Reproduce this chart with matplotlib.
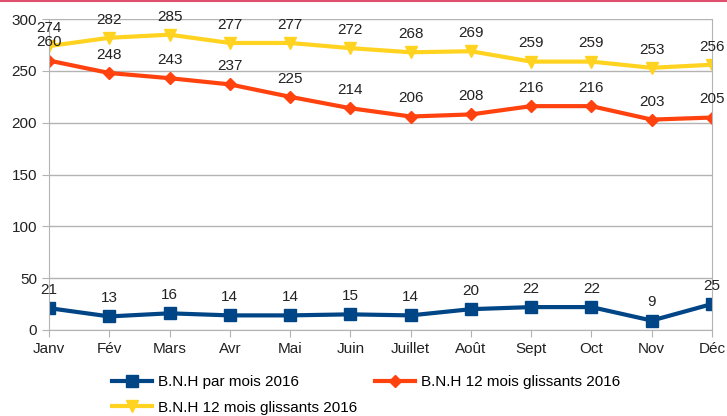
import matplotlib.pyplot as plt
from matplotlib.lines import Line2D

plt.rcParams['font.family'] = ['Liberation Sans', 'DejaVu Sans']

mois = ['Janv', 'Fév', 'Mars', 'Avr', 'Mai', 'Juin', 'Juillet', 'Août',
        'Sept', 'Oct', 'Nov', 'Déc']
par_mois = [21, 13, 16, 14, 14, 15, 14, 20, 22, 22, 9, 25]
glissants_a = [260, 248, 243, 237, 225, 214, 206, 208, 216, 216, 203, 205]
glissants_b = [274, 282, 285, 277, 277, 272, 268, 269, 259, 259, 253, 256]

bleu = '#004586'
orange = '#ff420e'
jaune = '#ffd320'

fig = plt.figure(figsize=(7.27, 4.16), dpi=100)
ax = fig.add_axes([0.0674, 0.207, 0.912, 0.747])

x = list(range(len(mois)))
l1, = ax.plot(x, par_mois, color=bleu, lw=3, marker='s', ms=8, label='B.N.H par mois 2016')
l2, = ax.plot(x, glissants_a, color=orange, lw=3, marker='D', ms=6, label='B.N.H 12 mois glissants 2016')
l3, = ax.plot(x, glissants_b, color=jaune, lw=3, marker='v', ms=9, label='B.N.H 12 mois glissants 2016')

for serie in (par_mois, glissants_a, glissants_b):
    for i, v in enumerate(serie):
        ax.annotate(str(v), (i, v), xytext=(0, 8), textcoords='offset points',
                    ha='center', va='bottom', fontsize=11, color='#222222')

ax.set_xlim(0, len(mois) - 1)
ax.set_ylim(0, 300)
ax.set_yticks(range(0, 301, 50))
ax.set_xticks(x)
ax.set_xticklabels(mois)
ax.tick_params(labelsize=11, color='#b3b3b3', length=5, colors='#222222')
ax.tick_params(axis='both', color='#b3b3b3')
ax.yaxis.grid(True, color='#b3b3b3', lw=1)
ax.set_axisbelow(True)
for s in ax.spines.values():
    s.set_color('#b3b3b3')
ax.spines['top'].set_visible(False)

fig.legend(handles=[l1, l3, l2], loc='lower left', bbox_to_anchor=(0.135, -0.03),
           ncol=2, frameon=False, fontsize=11, handlelength=2.6,
           columnspacing=1.2, labelspacing=0.75, handletextpad=0.4)

fig.add_artist(Line2D([0, 1], [0.998, 0.998], color='#e0506e', lw=1.5))

fig.savefig('out.png', dpi=100)
